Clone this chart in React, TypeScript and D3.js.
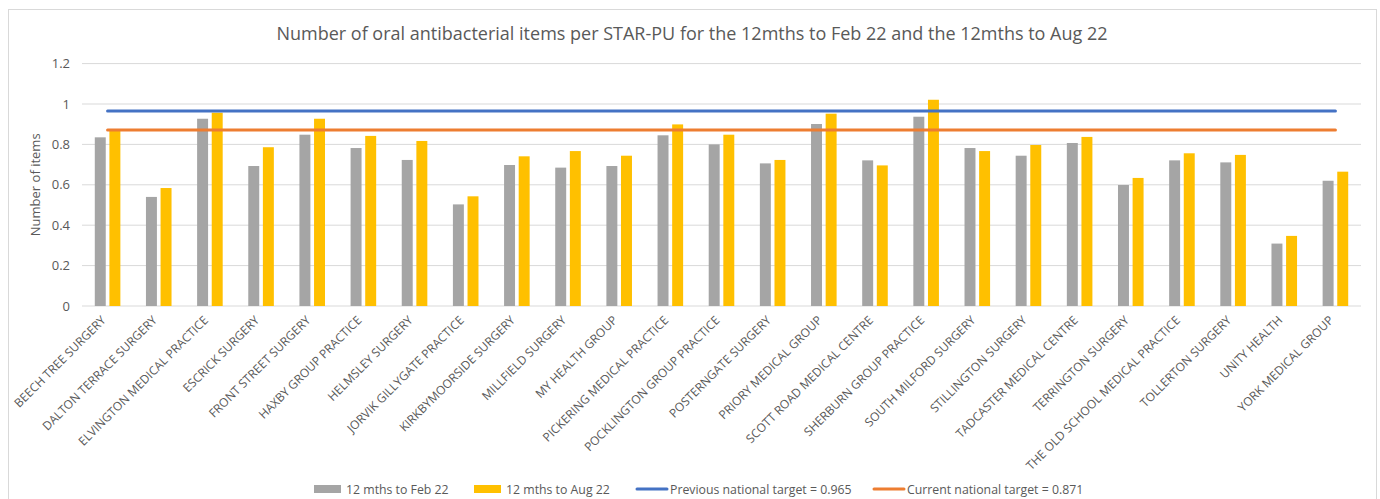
import React from 'react';
import * as d3 from 'd3';

const categories = [
    'BEECH TREE SURGERY', 'DALTON TERRACE SURGERY', 'ELVINGTON MEDICAL PRACTICE', 'ESCRICK SURGERY',
    'FRONT STREET SURGERY', 'HAXBY GROUP PRACTICE', 'HELMSLEY SURGERY', 'JORVIK GILLYGATE PRACTICE',
    'KIRKBYMOORSIDE SURGERY', 'MILLFIELD SURGERY', 'MY HEALTH GROUP', 'PICKERING MEDICAL PRACTICE',
    'POCKLINGTON GROUP PRACTICE', 'POSTERNGATE SURGERY', 'PRIORY MEDICAL GROUP', 'SCOTT ROAD MEDICAL CENTRE',
    'SHERBURN GROUP PRACTICE', 'SOUTH MILFORD SURGERY', 'STILLINGTON SURGERY', 'TADCASTER MEDICAL CENTRE',
    'TERRINGTON SURGERY', 'THE OLD SCHOOL MEDICAL PRACTICE', 'TOLLERTON SURGERY', 'UNITY HEALTH',
    'YORK MEDICAL GROUP'
];

const feb22 = [
    0.835, 0.540, 0.927, 0.693, 0.848, 0.782, 0.723, 0.503, 0.698, 0.685, 0.693, 0.845, 0.800,
    0.706, 0.901, 0.721, 0.937, 0.782, 0.744, 0.807, 0.599, 0.721, 0.711, 0.309, 0.620
];

const aug22 = [
    0.875, 0.584, 0.957, 0.786, 0.927, 0.842, 0.817, 0.543, 0.741, 0.767, 0.744, 0.899, 0.848,
    0.723, 0.952, 0.696, 1.021, 0.767, 0.797, 0.837, 0.634, 0.756, 0.748, 0.347, 0.665
];

const targetValues = [0.965, 0.871];
const targetNames = ['Previous national target = 0.965', 'Current national target = 0.871'];
const seriesNames = ['12 mths to Feb 22', '12 mths to Aug 22'];
const yTicks = [0, 0.2, 0.4, 0.6, 0.8, 1, 1.2];

const barColors = ['#A5A5A5', '#FFC000'];
const lineColors = ['#4472C4', '#ED7D31'];
const font = "'Open Sans', 'Liberation Sans', sans-serif";
const textColor = '#595959';

export default function App() {

    const container = React.useRef<SVGGElement>(null);

    const width = 1380, height = 499;
    const plot = { left: 82, right: 1361, top: 63.6, bottom: 306 };

    React.useEffect(() => {

        if (!container.current) return;

        const svg = d3.select(container.current);
        svg.selectAll('*').remove();

        const xScale0 = d3.scaleBand().domain(categories).range([plot.left, plot.right]).paddingInner(0.5).paddingOuter(0.25);
        const xScale1 = d3.scaleBand().domain(['feb', 'aug']).range([0, xScale0.bandwidth()]).paddingInner(0.25);
        const yScale = d3.scaleLinear().domain([0, 1.2]).range([plot.bottom, plot.top]);

        // frame
        svg.append('rect')
            .attr('x', 8.5).attr('y', 9.5)
            .attr('width', 1368).attr('height', 500)
            .attr('fill', '#fff').attr('stroke', '#d9d9d9');

        // title
        svg.append('text')
            .attr('x', 692).attr('y', 40)
            .attr('text-anchor', 'middle')
            .style('font-family', font).style('font-size', '18px').style('fill', textColor)
            .text('Number of oral antibacterial items per STAR-PU for the 12mths to Feb 22 and the 12mths to Aug 22');

        // grid
        svg.append('g').selectAll('line')
            .data(yTicks)
            .join('line')
            .attr('x1', plot.left).attr('x2', plot.right)
            .attr('y1', d => yScale(d)).attr('y2', d => yScale(d))
            .attr('stroke', '#d9d9d9').attr('stroke-width', 1);

        // y axis
        const yAxis = d3.axisLeft(yScale).tickValues(yTicks).tickSize(0).tickPadding(12).tickFormat(d => String(+d));
        const yG = svg.append('g').attr('transform', `translate(${plot.left},0)`).call(yAxis);
        yG.select('.domain').remove();
        yG.selectAll('text').style('font-family', font).style('font-size', '13px').style('fill', textColor);

        svg.append('text')
            .attr('transform', `translate(40,${(plot.top + plot.bottom) / 2}) rotate(-90)`)
            .attr('text-anchor', 'middle')
            .style('font-family', font).style('font-size', '13px').style('fill', textColor)
            .text('Number of items');

        // bars
        const groups = svg.append('g').selectAll('.group')
            .data(categories.map((c, i) => ({ c, feb: feb22[i], aug: aug22[i] })))
            .join('g')
            .attr('class', 'group')
            .attr('transform', d => `translate(${xScale0(d.c)},0)`);

        groups.append('rect')
            .attr('x', xScale1('feb')!)
            .attr('y', d => yScale(d.feb))
            .attr('width', xScale1.bandwidth())
            .attr('height', d => plot.bottom - yScale(d.feb))
            .style('fill', barColors[0]);

        groups.append('rect')
            .attr('x', xScale1('aug')!)
            .attr('y', d => yScale(d.aug))
            .attr('width', xScale1.bandwidth())
            .attr('height', d => plot.bottom - yScale(d.aug))
            .style('fill', barColors[1]);

        // target lines
        const first = xScale0(categories[0])! + xScale0.bandwidth() / 2;
        const last = xScale0(categories[categories.length - 1])! + xScale0.bandwidth() / 2;
        svg.append('g').selectAll('line')
            .data(targetValues)
            .join('line')
            .attr('x1', first).attr('x2', last)
            .attr('y1', d => yScale(d)).attr('y2', d => yScale(d))
            .attr('stroke', (d, i) => lineColors[i])
            .attr('stroke-width', 3)
            .attr('stroke-linecap', 'round');

        // category labels
        svg.append('g').selectAll('text')
            .data(categories)
            .join('text')
            .attr('transform', d => `translate(${xScale0(d)! + xScale0.bandwidth() / 2 - 1},${plot.bottom + 15}) rotate(-45)`)
            .attr('text-anchor', 'end')
            .style('font-family', font).style('font-size', '12px').style('fill', textColor)
            .text(d => d);

        // legend
        const legendX = [314, 474, 636, 873];
        const legendY = 489;
        const legend = svg.append('g');
        seriesNames.forEach((name, i) => {
            legend.append('rect')
                .attr('x', legendX[i]).attr('y', legendY - 4)
                .attr('width', 27).attr('height', 8)
                .style('fill', barColors[i]);
            legend.append('text')
                .attr('x', legendX[i] + 32).attr('y', legendY + 4.5)
                .style('font-family', font).style('font-size', '12.3px').style('fill', textColor)
                .text(name);
        });
        targetNames.forEach((name, i) => {
            legend.append('line')
                .attr('x1', legendX[i + 2] + 1).attr('x2', legendX[i + 2] + 31)
                .attr('y1', legendY).attr('y2', legendY)
                .attr('stroke', lineColors[i]).attr('stroke-width', 3).attr('stroke-linecap', 'round');
            legend.append('text')
                .attr('x', legendX[i + 2] + 34).attr('y', legendY + 4.5)
                .style('font-family', font).style('font-size', '12.3px').style('fill', textColor)
                .text(name);
        });

    }, []);

    return <div style={{ position: 'absolute', left: 0, top: 0 }}>
        <svg width={width} height={height} style={{ display: 'block', background: '#fff' }}>
            <g ref={container} />
        </svg>
    </div>
}
